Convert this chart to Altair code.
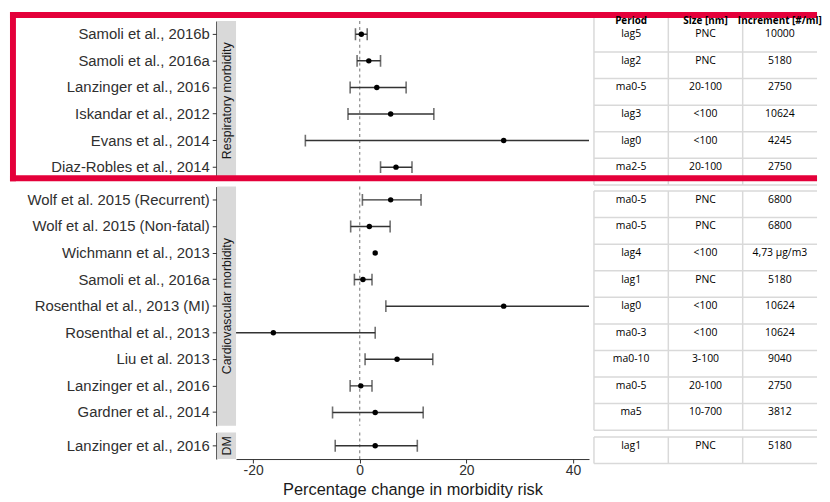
import altair as alt
import pandas as pd

# ---------------- data ----------------
group_names = ["Respiratory morbidity", "Cardiovascular morbidity", "DM"]
group_of_row = ["Respiratory morbidity"] * 6 + ["Cardiovascular morbidity"] * 9 + ["DM"]
studies = [
    "Samoli et al., 2016b", "Samoli et al., 2016a", "Lanzinger et al., 2016",
    "Iskandar et al., 2012", "Evans et al., 2014", "Diaz-Robles et al., 2014",
    "Wolf et al. 2015 (Recurrent)", "Wolf et al. 2015 (Non-fatal)", "Wichmann et al., 2013",
    "Samoli et al., 2016a", "Rosenthal et al., 2013 (MI)", "Rosenthal et al., 2013",
    "Liu et al. 2013", "Lanzinger et al., 2016", "Gardner et al., 2014",
    "Lanzinger et al., 2016",
]
estimate = [0.3, 1.7, 3.2, 5.8, 27.0, 6.8,
            5.8, 1.8, 2.9, 0.6, 27.0, -16.2, 7.0, 0.2, 2.9,
            2.9]
lower = [-0.8, -0.5, -1.8, -2.2, -10.2, 3.9,
         0.5, -1.7, None, -1.0, 4.9, -38.0, 1.0, -1.8, -5.1,
         -4.6]
upper = [1.4, 3.9, 8.7, 13.9, 70.0, 9.8,
         11.5, 5.7, None, 2.3, 55.0, 2.9, 13.7, 2.3, 11.9,
         10.8]
period = ["lag5", "lag2", "ma0-5", "lag3", "lag0", "ma2-5",
          "ma0-5", "ma0-5", "lag4", "lag1", "lag0", "ma0-3", "ma0-10", "ma0-5", "ma5",
          "lag1"]
size_nm = ["PNC", "PNC", "20-100", "<100", "<100", "20-100",
           "PNC", "PNC", "<100", "PNC", "<100", "<100", "3-100", "20-100", "10-700",
           "PNC"]
increment = ["10000", "5180", "2750", "10624", "4245", "2750",
             "6800", "6800", "4,73 µg/m3", "5180", "10624", "10624", "9040", "2750", "3812",
             "5180"]
table_cols = ["period", "size", "incr"]
table_headers = ["Period", "Size [nm]", "Increment [#/ml]"]
x_ticks = [-20, 0, 20, 40]
x_domain = [-23.2, 43.0]
x_title = "Percentage change in morbidity risk"

# ---------------- layout constants ----------------
STEP = 26.8
W_F = 356
W_T = 225
HSPACE = 5
VSPACE = 6
TOP_GAP = 9          # red frame outer top above first panel
RED = "#E4003A"
RED_W = 6
AX = "#333333"
GRID = "#D9D9D9"
TFONT = 10.5

df = pd.DataFrame({
    "group": group_of_row, "study": studies, "est": estimate,
    "lo": lower, "hi": upper,
    "period": period, "size": size_nm, "incr": increment,
})


def forest(g, last):
    d = df[df.group == g].reset_index(drop=True)
    n = len(d)
    H = n * STEP
    ysc = alt.Scale(type="band", domain=list(d.study), paddingInner=0, paddingOuter=0)
    yax = alt.Axis(title=None, offset=20, domainColor=AX, domainWidth=1,
                   tickColor=AX, tickSize=4, tickWidth=1, labelFontSize=15,
                   labelColor="#303030", labelPadding=3, labelFont="Liberation Sans",
                   grid=False, labelLimit=400)
    Y = alt.Y("study:N", scale=ysc, axis=yax, sort=None)
    xsc = alt.Scale(domain=x_domain, nice=False, zero=False)
    if last:
        xax = alt.Axis(title=x_title, values=x_ticks, grid=False, domainColor=AX,
                       tickColor=AX, tickSize=4, labelFontSize=14, labelColor="#303030",
                       labelPadding=1, labelExpr="'' + datum.value",
                       titleFontSize=16.5, titleFontWeight="normal", titleColor="#1A1A1A",
                       titlePadding=4, labelFont="Liberation Sans", titleFont="Liberation Sans")
    else:
        xax = None

    def X(field):
        if xax is None:
            return alt.X(field, scale=xsc, axis=None)
        return alt.X(field, scale=xsc, axis=xax)

    zero = alt.Chart(pd.DataFrame({"zero": [0]})).mark_rule(
        color="#808080", strokeDash=[3, 3], strokeWidth=1.1
    ).encode(x=X("zero:Q"))
    ci = alt.Chart(d).mark_rule(color=AX, strokeWidth=1.5, clip=True).encode(
        x=X("lo:Q"), x2="hi:Q", y=Y)
    cap_lo = alt.Chart(d).mark_tick(color=AX, size=12, thickness=1.6, clip=True).encode(
        x=X("lo:Q"), y=Y)
    cap_hi = alt.Chart(d).mark_tick(color=AX, size=12, thickness=1.6, clip=True).encode(
        x=X("hi:Q"), y=Y)
    pts = alt.Chart(d).mark_circle(color="black", size=30, opacity=1).encode(
        x=X("est:Q"), y=Y)
    strip_df = pd.DataFrame({"label": [g]})
    strip = alt.Chart(strip_df).mark_rect(color="#D9D9D9").encode(
        x=alt.value(-19), x2=alt.value(0), y=alt.value(0), y2=alt.value(H))
    strip_txt = alt.Chart(strip_df).mark_text(
        angle=270, fontSize=12.5, color="#1A1A1A", font="Liberation Sans",
        align="center", baseline="middle"
    ).encode(text="label:N", x=alt.value(-9.5), y=alt.value(H / 2))
    return alt.layer(zero, ci, cap_lo, cap_hi, pts, strip, strip_txt).properties(
        width=W_F, height=H)


def table(g, first):
    d = df[df.group == g].reset_index(drop=True)
    n = len(d)
    H = n * STEP
    long = d.melt(id_vars=["study"], value_vars=table_cols, var_name="col", value_name="val")
    ysc = alt.Scale(type="band", domain=list(d.study), paddingInner=0, paddingOuter=0)
    xsc = alt.Scale(type="band", domain=table_cols, paddingInner=0, paddingOuter=0)
    Y = alt.Y("study:N", scale=ysc, axis=None, sort=None)
    X = alt.X("col:N", scale=xsc, axis=None, sort=None)
    off = 4.5
    rows = pd.DataFrame({"study": list(d.study)})
    hl = alt.Chart(rows).mark_rule(color=GRID, strokeWidth=1.5, yOffset=STEP / 2 + off).encode(
        y=Y, x=alt.value(0), x2=alt.value(W_T))
    layers = [hl]
    ytop = -TOP_GAP if first else off
    if not first:
        layers.append(alt.Chart(pd.DataFrame({"k": [0]})).mark_rule(color=GRID, strokeWidth=1.5).encode(
            y=alt.value(off), x=alt.value(0), x2=alt.value(W_T)))
    cols_df = pd.DataFrame({"col": table_cols})
    vl = alt.Chart(cols_df).mark_rule(color=GRID, strokeWidth=1.5).encode(
        x=alt.X("col:N", scale=xsc, axis=None, sort=None, bandPosition=0),
        y=alt.value(ytop), y2=alt.value(H + off))
    layers.append(vl)
    txt = alt.Chart(long).mark_text(font="Open Sans", fontSize=TFONT, color="black").encode(
        x=X, y=Y, text="val:N")
    layers.append(txt)
    if first:
        # red highlight frame around the respiratory block
        xl = -(W_F + HSPACE + 228) + RED_W / 2
        xr = W_T - RED_W / 2
        yt = -TOP_GAP + RED_W / 2
        yb = H - 2.2
        one = pd.DataFrame({"k": [0]})
        frame_kw = dict(color=RED, strokeWidth=RED_W, strokeCap="square")
        layers.append(alt.Chart(one).mark_rule(**frame_kw).encode(
            x=alt.value(xl), x2=alt.value(xr), y=alt.value(yt)))
        layers.append(alt.Chart(one).mark_rule(**frame_kw).encode(
            x=alt.value(xl), x2=alt.value(xr), y=alt.value(yb)))
        layers.append(alt.Chart(one).mark_rule(**frame_kw).encode(
            x=alt.value(xl), y=alt.value(yt), y2=alt.value(yb)))
        hdr = alt.Chart(pd.DataFrame({"col": table_cols, "label": table_headers})).mark_text(
            font="Open Sans", fontSize=10, fontWeight="bold", color="black"
        ).encode(x=X, y=alt.value(0), text="label:N")
        layers.append(hdr)
    return alt.layer(*layers).properties(width=W_T, height=H)


charts = []
for i, g in enumerate(group_names):
    charts.append(forest(g, i == len(group_names) - 1))
    charts.append(table(g, i == 0))

chart = alt.concat(
    *charts, columns=2, spacing={"row": VSPACE, "column": HSPACE},
    align="each", bounds="flush", padding=0
).configure(font="Liberation Sans").configure_view(strokeWidth=0, stroke="transparent")

chart.save("out.html", embed_options={"renderer": "svg", "actions": False})
